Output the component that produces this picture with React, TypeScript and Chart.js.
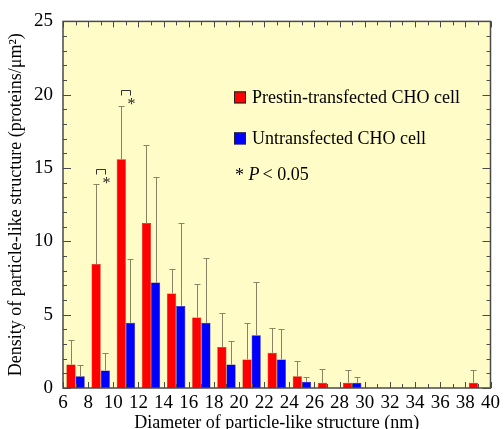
import React, { useEffect, useRef } from 'react';
import { Chart, registerables } from 'chart.js';

Chart.register(...registerables);

// ---- data ----
const binCenters = [7, 9, 11, 13, 15, 17, 19, 21, 23, 25, 27, 29, 31, 33, 35, 37, 39];
const prestin = [1.6, 8.45, 15.6, 11.25, 6.45, 4.8, 2.8, 1.95, 2.4, 0.8, 0.36, 0.36, 0, 0, 0, 0, 0.36];
const prestinErr = [1.7, 5.45, 3.6, 5.35, 1.65, 2.3, 2.3, 2.45, 1.7, 1.05, 0.94, 0.89, 0, 0, 0, 0, 0.89];
const untrans = [0.8, 1.2, 4.45, 7.2, 5.6, 4.45, 1.6, 3.6, 1.95, 0.42, 0, 0.36, 0, 0, 0, 0, 0];
const untransErr = [0.78, 1.2, 4.37, 7.2, 5.68, 4.43, 1.6, 3.6, 2.07, 0.33, 0, 0.38, 0, 0, 0, 0, 0];
const sigBins = [9, 11];
const sigLevels = [14.95, 20.35];
const seriesLabels = ['Prestin-transfected CHO cell', 'Untransfected CHO cell'];
const xTitle = 'Diameter of particle-like structure (nm)';
const yTitle = 'Density of particle-like structure (proteins/\u03bcm\u00b2)';

const FONT = '"Liberation Serif", "Times New Roman", serif';
const RED = '#ff0000';
const BLUE = '#0000ff';
const ERR = '#8a8264';
const FRAME = '#4a4a4a';

const decor = {
  id: 'decor',
  beforeDatasetsDraw(chart: any) {
    const { ctx, chartArea: a } = chart;
    ctx.save();
    ctx.fillStyle = '#fffcc8';
    ctx.fillRect(a.left, a.top, a.right - a.left, a.bottom - a.top);
    ctx.restore();
  },
  afterDatasetsDraw(chart: any) {
    const { ctx, scales } = chart;
    const ys = scales.y;
    ctx.save();
    // error bars
    const errs = [prestinErr, untransErr];
    const vals = [prestin, untrans];
    for (let d = 0; d < 2; d++) {
      const meta = chart.getDatasetMeta(d);
      meta.data.forEach((bar: any, i: number) => {
        const e = errs[d][i];
        if (!e) return;
        const y0 = ys.getPixelForValue(vals[d][i]);
        const y1 = Math.round(ys.getPixelForValue(vals[d][i] + e)) + 0.5;
        const x = Math.round(bar.x) + 0.5;
        ctx.strokeStyle = ERR;
        ctx.lineWidth = 1;
        ctx.beginPath();
        ctx.moveTo(x, y0);
        ctx.lineTo(x, y1);
        ctx.moveTo(x - 3, y1);
        ctx.lineTo(x + 3, y1);
        ctx.stroke();
      });
    }
    // significance brackets
    const m0 = chart.getDatasetMeta(0);
    const m1 = chart.getDatasetMeta(1);
    sigBins.forEach((b, k) => {
      const i = binCenters.indexOf(b);
      const xl = Math.round(m0.data[i].x) + 0.5;
      const xr = Math.round(m1.data[i].x) + 0.5;
      const y = Math.round(ys.getPixelForValue(sigLevels[k])) + 0.5;
      ctx.strokeStyle = '#333';
      ctx.lineWidth = 1;
      ctx.beginPath();
      ctx.moveTo(xl, y + 5);
      ctx.lineTo(xl, y);
      ctx.lineTo(xr, y);
      ctx.lineTo(xr, y + 5);
      ctx.stroke();
      ctx.fillStyle = '#222';
      ctx.font = `16px ${FONT}`;
      ctx.textAlign = 'center';
      ctx.textBaseline = 'middle';
      ctx.fillText('*', xr + 1, y + 14);
    });
    ctx.restore();
  },
  afterDraw(chart: any) {
    const { ctx, chartArea: a, scales } = chart;
    const xs = scales.x;
    const ys = scales.y;
    ctx.save();
    ctx.strokeStyle = FRAME;
    ctx.lineWidth = 1;
    ctx.beginPath();
    for (let v = xs.min; v <= xs.max; v += 1) {
      const x = Math.round(xs.getPixelForValue(v)) + 0.5;
      const len = v % 2 === 0 ? 6 : 4;
      ctx.moveTo(x, a.bottom);
      ctx.lineTo(x, a.bottom - len);
      ctx.moveTo(x, a.top);
      ctx.lineTo(x, a.top + len);
    }
    for (let v = ys.min; v <= ys.max; v += 1) {
      const y = Math.round(ys.getPixelForValue(v)) + 0.5;
      const len = v % 5 === 0 ? 8 : 4;
      ctx.moveTo(a.left, y);
      ctx.lineTo(a.left + len, y);
      ctx.moveTo(a.right, y);
      ctx.lineTo(a.right - len, y);
    }
    ctx.stroke();
    ctx.lineWidth = 1.5;
    ctx.strokeRect(a.left, a.top, a.right - a.left, a.bottom - a.top);

    // legend
    const lx = a.left + 171;
    const rows = [a.top + 76, a.top + 117];
    const cols = [RED, BLUE];
    ctx.font = `18px ${FONT}`;
    ctx.textBaseline = 'middle';
    ctx.textAlign = 'left';
    rows.forEach((ry, k) => {
      ctx.fillStyle = cols[k];
      ctx.fillRect(lx, ry - 6, 12, 12);
      ctx.strokeStyle = '#222';
      ctx.lineWidth = 1;
      ctx.strokeRect(lx + 0.5, ry - 5.5, 11, 11);
      ctx.fillStyle = '#000';
      ctx.fillText(seriesLabels[k], lx + 18, ry + 1);
    });
    const py = a.top + 154;
    let px = lx + 1;
    ctx.fillText('*', px, py + 1);
    px += ctx.measureText('* ').width;
    ctx.font = `italic 18px ${FONT}`;
    ctx.fillText('P', px, py);
    px += ctx.measureText('P').width + 3;
    ctx.font = `18px ${FONT}`;
    ctx.fillText('< 0.05', px, py);
    ctx.restore();
  },
};

export default function App() {
  const ref = useRef<HTMLCanvasElement>(null);
  useEffect(() => {
    const chart = new Chart(ref.current!, {
      type: 'bar',
      data: {
        datasets: [
          {
            label: seriesLabels[0],
            data: binCenters.map((x, i) => ({ x, y: prestin[i] })),
            backgroundColor: RED,
            borderColor: '#b00000',
            borderWidth: 0.5,
          },
          {
            label: seriesLabels[1],
            data: binCenters.map((x, i) => ({ x, y: untrans[i] })),
            backgroundColor: BLUE,
            borderColor: '#00008a',
            borderWidth: 0.5,
          },
        ],
      },
      options: {
        animation: false,
        responsive: true,
        maintainAspectRatio: false,
        layout: { padding: { left: 0, top: 18, right: 9, bottom: 0 } },
        datasets: { bar: { categoryPercentage: 0.73, barPercentage: 1 } },
        plugins: { legend: { display: false }, tooltip: { enabled: false } },
        scales: {
          x: {
            type: 'linear',
            offset: false,
            min: 6,
            max: 40,
            grid: { display: false, drawTicks: false },
            border: { display: false },
            ticks: { stepSize: 2, autoSkip: false, maxRotation: 0, padding: 4, color: '#000', font: { family: FONT, size: 19 } },
            title: { display: true, text: xTitle, color: '#000', font: { family: FONT, size: 18 }, padding: { top: 0, bottom: -5 } },
            afterFit: (s: any) => { s.height = 41; },
          },
          y: {
            min: 0,
            max: 25,
            grid: { display: false, drawTicks: false },
            border: { display: false },
            ticks: { stepSize: 5, padding: 10, color: '#000', font: { family: FONT, size: 19 } },
            title: { display: true, text: yTitle, color: '#000', font: { family: FONT, size: 18 }, padding: { top: 5, bottom: 0 } },
            afterFit: (s: any) => { s.width = 63; },
          },
        },
      } as any,
      plugins: [decor],
    });
    return () => chart.destroy();
  }, []);
  return (
    <div style={{ position: 'fixed', left: 0, top: 0, width: 504, height: 429, background: '#fff' }}>
      <canvas ref={ref} />
    </div>
  );
}
